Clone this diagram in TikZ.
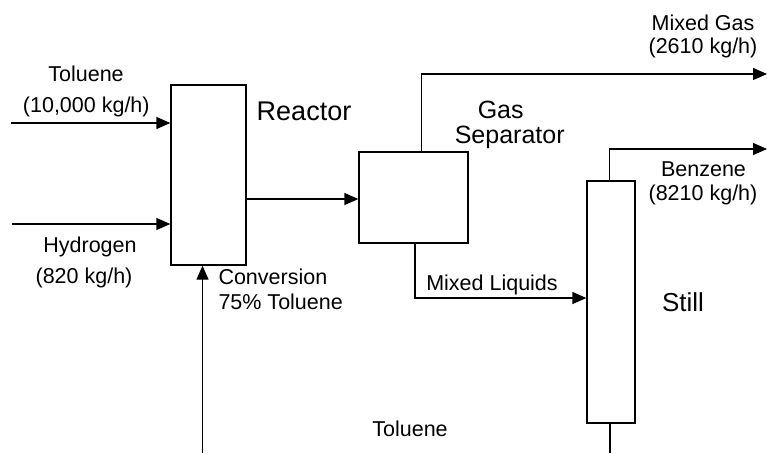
\documentclass[tikz,border=0pt]{standalone}
\usepackage{fontspec}
\setmainfont{Liberation Sans}
\usetikzlibrary{arrows.meta}
\begin{document}
\begin{tikzpicture}[x=1pt,y=-1pt,
  unitbox/.style={draw,line width=1.3pt,rectangle,inner sep=0pt},
  flow/.style={line width=1.3pt,-{Triangle[length=14pt,width=12pt]}},
  pipe/.style={line width=1.3pt},
  lbl/.style={anchor=base,inner sep=0pt,font=\fontsize{21.5}{25}\selectfont},
  big/.style={anchor=base,inner sep=0pt,font=\fontsize{26}{30}\selectfont,align=center}]
\useasboundingbox (0,0) rectangle (767,453);
\node[unitbox,minimum width=75pt,minimum height=180pt] (reactor) at (208.5,175) {};
\node[unitbox,minimum width=109pt,minimum height=91pt] (gas) at (413.5,197.5) {};
\node[unitbox,minimum width=48pt,minimum height=242pt] (still) at (611,302) {};
% coordinates
\coordinate (tin) at (11,123);
\coordinate (hin) at (12,224);
\coordinate (rout) at (246,199);
\coordinate (gasup) at (421.5,152);
\coordinate (gascorner) at (421.5,74);
\coordinate (gasend) at (767,74);
\coordinate (liqdown) at (415,243);
\coordinate (liqcorner) at (415,298);
\coordinate (benup) at (609.5,181);
\coordinate (bencorner) at (609.5,149);
\coordinate (benend) at (767,149);
\coordinate (botend) at (610,453);
\coordinate (recyc) at (202.5,453);
% connectors
\draw[flow] (tin) -- (tin -| reactor.west);
\draw[flow] (hin) -- (hin -| reactor.west);
\draw[flow] (rout) -- (rout -| gas.west);
\draw[flow] (gasup) -- (gascorner) -- (gasend);
\draw[flow] (liqdown) -- (liqcorner) -- (liqcorner -| still.west);
\draw[flow] (benup) -- (bencorner) -- (benend);
\draw[pipe] (still.south -| botend) -- (botend);
\draw[flow] (recyc) -- (recyc |- reactor.south);
% labels
\node[lbl] (l1) at (86,81.7) {Toluene};
\node[lbl] (l2) at (86.3,112) {(10,000 kg/h)};
\node[lbl] (l3) at (90,252.5) {Hydrogen};
\node[lbl] (l4) at (84,283) {(820 kg/h)};
\node[big,font=\fontsize{27}{30}\selectfont] (l5) at (304,120) {Reactor};
\node[big,font=\fontsize{25}{25}\selectfont] (l6) at (500.7,118.3) {Gas};
\node[big,font=\fontsize{25}{25}\selectfont] (l7) at (509.7,143.3) {Separator};
\node[lbl] (l8) at (703,30) {Mixed Gas};
\node[lbl] (l9) at (703,53.3) {(2610 kg/h)};
\node[lbl] (l10) at (703.5,176.7) {Benzene};
\node[lbl] (l11) at (703,200) {(8210 kg/h)};
\node[big] (l12) at (683,311.7) {Still};
\node[lbl] (l13) at (492,290) {Mixed Liquids};
\node[lbl,anchor=base west] (l14) at (218.3,284.3) {Conversion};
\node[lbl,anchor=base west] (l15) at (218.3,309.3) {75\% Toluene};
\node[lbl] (l16) at (410,436.7) {Toluene};
\end{tikzpicture}
\end{document}
